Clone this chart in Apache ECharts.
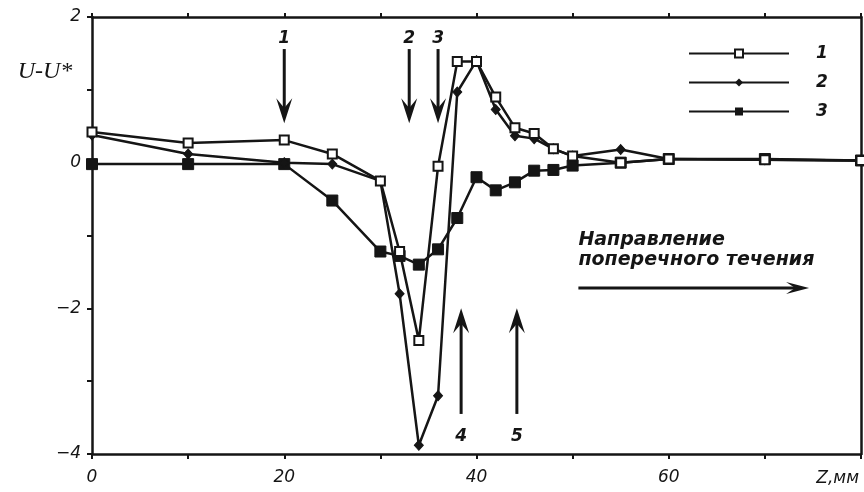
<!DOCTYPE html>
<html><head><meta charset="utf-8">
<script src="https://cdn.jsdelivr.net/npm/echarts@6/dist/echarts.min.js"></script>
<style>html,body{margin:0;padding:0;background:#fff}#c{width:864px;height:492px}</style>
</head><body><div id="c"></div>
<script>
// Data (z in mm, U-U*)
const z = [0, 10, 20, 25, 30, 32, 34, 36, 38, 40, 42, 44, 46, 48, 50, 55, 60, 70, 80];
const series1 = [0.42, 0.27, 0.31, 0.12, -0.25, -1.22, -2.44, -0.05, 1.39, 1.39, 0.90, 0.48, 0.40, 0.19, 0.09, 0.00, 0.05, 0.04, 0.03];
const series2 = [0.38, 0.12, 0.00, -0.02, -0.25, -1.80, -3.88, -3.20, 0.97, 1.40, 0.73, 0.37, 0.33, 0.19, 0.09, 0.18, 0.05, 0.04, 0.03];
const series3 = [-0.02, -0.02, -0.02, -0.52, -1.22, -1.28, -1.40, -1.19, -0.76, -0.20, -0.38, -0.27, -0.11, -0.10, -0.04, 0.00, 0.05, 0.05, 0.03];
const seriesNames = ['1', '2', '3'];
const xTickLabels = {0: '0', 20: '20', 40: '40', 60: '60'};
const yTickLabels = {2: '2', 0: '0', '-2': '\u22122', '-4': '\u22124'};
// annotation arrows (data coords)
const downArrowX = [20, 33, 36];
const downArrowLabels = ['1', '2', '3'];
const upArrowX = [38.4, 44.2];
const upArrowLabels = ['4', '5'];
const flowText = ['Направление', 'поперечного течения'];

const pair = a => z.map((x, i) => [x, a[i]]);
const INK = '#151515';
const FONT = '"DejaVu Sans", sans-serif';
const chart = echarts.init(document.getElementById('c'));
const common = {
  type: 'line', lineStyle: {color: INK, width: 2.5}, itemStyle: {color: INK, borderColor: INK}, animation: false
};
chart.setOption({
  backgroundColor: '#fff',
  animation: false,
  grid: {left: 92, right: 2, top: 17, bottom: 38},
  legend: {
    orient: 'vertical', left: 683, top: 40, itemWidth: 100, itemHeight: 10, itemGap: 12,
    data: seriesNames,
    textStyle: {fontFamily: FONT, fontStyle: 'italic', fontWeight: 'bold', fontSize: 17, color: INK, padding: [0, 0, 0, 22]}
  },
  xAxis: [{
    type: 'value', min: 0, max: 80, interval: 10, position: 'bottom',
    axisLine: {show: true, onZero: false, lineStyle: {color: INK, width: 2.5}},
    axisTick: {show: true, length: 5, lineStyle: {color: INK, width: 2}},
    splitLine: {show: false},
    axisLabel: {formatter: v => xTickLabels[v] || '', fontFamily: FONT, fontStyle: 'italic', fontSize: 17, color: INK, margin: 15},
    name: 'Z,мм', nameLocation: 'end', nameGap: -2,
    nameTextStyle: {fontFamily: FONT, fontStyle: 'italic', fontSize: 17, color: INK, align: 'right', verticalAlign: 'top', padding: [16, 0, 0, 0]}
  }, {
    type: 'value', min: 0, max: 80, interval: 10, position: 'top',
    axisLine: {show: true, onZero: false, lineStyle: {color: INK, width: 2.5}},
    axisTick: {show: true, length: 4, lineStyle: {color: INK, width: 2}},
    splitLine: {show: false}, axisLabel: {show: false}
  }],
  yAxis: [{
    type: 'value', min: -4, max: 2, interval: 1, position: 'left',
    axisLine: {show: true, onZero: false, lineStyle: {color: INK, width: 2.5}},
    axisTick: {show: true, length: 5, lineStyle: {color: INK, width: 2}},
    splitLine: {show: false},
    axisLabel: {formatter: v => yTickLabels[v] || '', fontFamily: FONT, fontStyle: 'italic', fontSize: 17, color: INK, margin: 11}
  }, {
    type: 'value', min: -4, max: 2, interval: 1, position: 'right',
    axisLine: {show: true, onZero: false, lineStyle: {color: INK, width: 2.5}},
    axisTick: {show: false}, axisLabel: {show: false}, splitLine: {show: false}
  }],
  series: [
    Object.assign({}, common, {name: seriesNames[2], data: pair(series3), symbol: 'rect', symbolSize: 11, z: 2}),
    Object.assign({}, common, {name: seriesNames[1], data: pair(series2), symbol: 'diamond', symbolSize: [9, 10], z: 3}),
    Object.assign({}, common, {name: seriesNames[0], data: pair(series1), symbol: 'rect', symbolSize: 9,
      itemStyle: {color: '#fff', borderColor: INK, borderWidth: 2}, z: 4})
  ]
});
const px = (x, y) => chart.convertToPixel({gridIndex: 0}, [x, y]);
const g = [];
function arrow(x0, y0, x1, y1, hl, hw) {
  const dx = x1 - x0, dy = y1 - y0, L = Math.hypot(dx, dy), ux = dx / L, uy = dy / L;
  const bx = x1 - ux * hl, by = y1 - uy * hl;
  const nx = -uy, ny = ux;
  g.push({type: 'line', shape: {x1: x0, y1: y0, x2: x1 - ux * hl * 0.6, y2: y1 - uy * hl * 0.6}, style: {stroke: INK, lineWidth: 3}});
  g.push({type: 'polygon', shape: {points: [[x1, y1], [bx + nx * hw / 2 - ux * 3, by + ny * hw / 2 - uy * 3], [x1 - ux * hl * 0.7, y1 - uy * hl * 0.7], [bx - nx * hw / 2 - ux * 3, by - ny * hw / 2 - uy * 3]]}, style: {fill: INK}});
}
function text(x, y, s, opts) {
  g.push({type: 'text', x: x, y: y, style: Object.assign({text: s, fill: INK, font: 'italic bold 17px ' + FONT, align: 'center', verticalAlign: 'middle'}, opts || {})});
}
downArrowX.forEach((x, i) => {
  const a = px(x, 1.56), b = px(x, 0.54), t = px(x, 1.7);
  arrow(a[0], a[1], b[0], b[1], 22, 16);
  text(t[0], t[1], downArrowLabels[i]);
});
upArrowX.forEach((x, i) => {
  const a = px(x, -3.45), b = px(x, -2.0), t = px(x, -3.76);
  arrow(a[0], a[1], b[0], b[1], 22, 16);
  text(t[0], t[1], upArrowLabels[i]);
});
{
  const p1 = px(50.6, -1.06), p2 = px(50.6, -1.34), a0 = px(50.6, -1.72), a1 = px(74.6, -1.72);
  text(p1[0], p1[1], flowText[0], {align: 'left', font: 'italic bold 19px ' + FONT});
  text(p2[0], p2[1], flowText[1], {align: 'left', font: 'italic bold 19px ' + FONT});
  arrow(a0[0], a0[1], a1[0], a1[1], 20, 12);
}
text(45, 72, 'U-U*', {font: 'italic 24px "Liberation Serif", serif'});
chart.setOption({graphic: g});
</script></body></html>
